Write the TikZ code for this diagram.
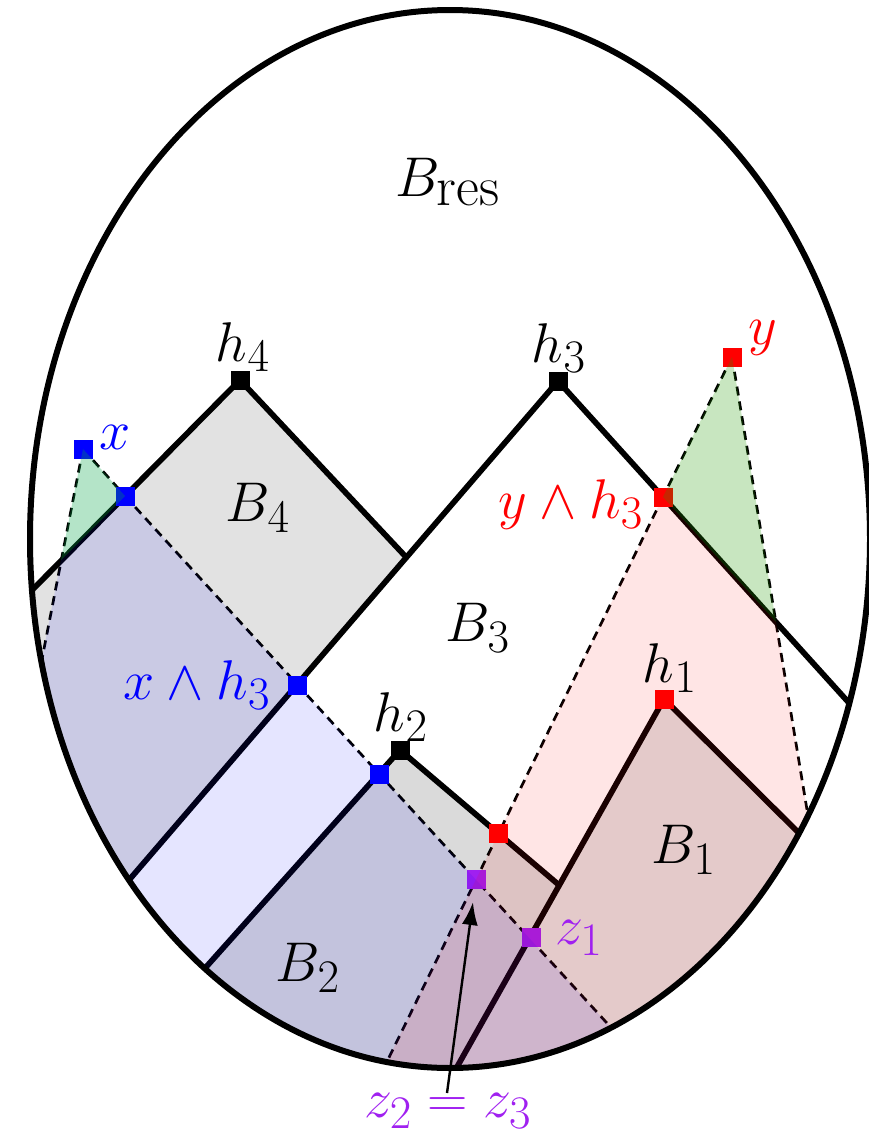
\documentclass[tikz,border=0pt]{standalone}
\usetikzlibrary{arrows.meta}
\definecolor{zpurple}{RGB}{160,32,240}
\definecolor{grayA}{RGB}{226,226,226}
\definecolor{grayB}{RGB}{218,218,218}
\definecolor{ygreen}{RGB}{35,155,3}
\definecolor{xgreen}{RGB}{5,165,72}
\begin{document}
\begin{tikzpicture}[x=1pt,y=-1pt,
  thickline/.style={line width=5.7pt, line join=round},
  dashline/.style={line width=2.7pt, dash pattern=on 9pt off 6pt},
  sq/.style={fill=#1, rectangle, minimum size=19pt, inner sep=0pt, outer sep=0pt, draw=none},
  lab/.style={font=\Huge, scale=2.25, inner sep=0pt},
  cone/.style={fill=#1, fill opacity=0.1},
]
\useasboundingbox (0,0) rectangle (869,1136);
% main points
\coordinate (h4) at (240,380);
\coordinate (h3) at (558,381);
\coordinate (h2) at (400,750);
\coordinate (h1) at (664,699);
\coordinate (J4) at (406,557);
\coordinate (J2) at (559,885);
\coordinate (E4L) at (-50,673);
\coordinate (E3L) at (111,901);
\coordinate (E3R) at (869,725);
\coordinate (E2L) at (190,985);
\coordinate (E1L) at (448,1083);
\coordinate (E1R) at (815,849);
\coordinate (x) at (83,449);
\coordinate (P) at (125,496);
\coordinate (Q) at (61,560);
\coordinate (Xext) at (34,700);
\coordinate (xh) at (297,685);
\coordinate (b2) at (379,774);
\coordinate (z2) at (476,879);
\coordinate (z1) at (531,937);
\coordinate (Bext) at (627,1045);
\coordinate (y) at (732,357);
\coordinate (yh) at (663,497);
\coordinate (r2) at (498,833);
\coordinate (Gy) at (776,622);
\coordinate (Yext) at (812,840);
\coordinate (Rext) at (378,1080);

\begin{scope}
\clip (450,539) ellipse [x radius=420pt, y radius=529pt];
% gray cones
\fill[grayA] (h4) -- (J4) -- (E3L) -- (-50,901) -- (E4L) -- cycle;
\fill[grayB] (h2) -- (J2) -- (E1L) -- (190,1083) -- (E2L) -- cycle;
\fill[grayA] (h1) -- (E1R) -- (815,1083) -- (E1L) -- cycle;
% tree lines
\draw[thickline] (h4) -- (E4L);
\draw[thickline] (h4) -- (J4);
\draw[thickline] (h3) -- (E3L);
\draw[thickline] (h3) -- (E3R);
\draw[thickline] (h2) -- (E2L);
\draw[thickline] (h2) -- (J2);
\draw[thickline] (h1) -- (E1L);
\draw[thickline] (h1) -- (E1R);
% dashed lines
\draw[dashline] (x) -- (Xext);
\draw[dashline] (x) -- (P);
\draw[dashline] (P) -- (Bext);
\draw[dashline] (y) -- (yh);
\draw[dashline] (y) -- (Yext);
\draw[dashline] (yh) -- (Rext);
% squares
\node[sq=black] (h4box) at (h4) {};
\node[sq=black] (h3box) at (h3) {};
\node[sq=black] (h2box) at (h2) {};
\node[sq=red] (h1box) at (h1) {};
\node[sq=blue] (xbox) at (x) {};
\node[sq=blue] (Pbox) at (P) {};
\node[sq=blue] (xhbox) at (xh) {};
\node[sq=blue] (b2box) at (b2) {};
\node[sq=zpurple] (z2box) at (z2) {};
\node[sq=zpurple] (z1box) at (z1) {};
\node[sq=red] (ybox) at (y) {};
\node[sq=red] (yhbox) at (yh) {};
\node[sq=red] (r2box) at (r2) {};
% translucent cones
\fill[cone=blue] (Q) -- (P) -- (Bext) -- (627,1120) -- (0,1120) -- (0,700) -- (Xext) -- cycle;
\fill[cone=red] (yh) -- (Gy) -- (Yext) -- (880,900) -- (880,1120) -- (370,1120) -- (Rext) -- cycle;
\fill[xgreen, fill opacity=0.3] (x) -- (P) -- (Q) -- cycle;
\fill[ygreen, fill opacity=0.25] (y) -- (yh) -- (Gy) -- cycle;
\end{scope}
% boundary
\draw[line width=6pt] (450,539) ellipse [x radius=420pt, y radius=529pt];
% labels
\node[lab] (Bres) at (448,182) {$B_{\mbox{res}}$};
\node[lab] (B4) at (258,508) {$B_4$};
\node[lab] (B3) at (478,628) {$B_3$};
\node[lab] (B2) at (308,968) {$B_2$};
\node[lab] (B1) at (684,850) {$B_1$};
\node[lab] (h4lab) at (243,347) {$h_4$};
\node[lab] (h3lab) at (559,348) {$h_3$};
\node[lab] (h2lab) at (401,717) {$h_2$};
\node[lab] (h1lab) at (670,668) {$h_1$};
\node[lab, text=red] (ylab) at (763,338) {$y$};
\node[lab, text=blue] (xlab) at (115,437) {$x$};
\node[lab, text=blue] (xhlab) at (197,685) {$x\wedge h_3$};
\node[lab, text=red] (yhlab) at (571,504) {$y\wedge h_3$};
\node[lab, text=zpurple] (z1lab) at (579,938) {$z_1$};
\node[lab, text=zpurple] (zlab) at (448,1111) {$z_2=z_3$};
\coordinate (zarrow) at (447,1093);
\coordinate (ztip) at (473,902);
\draw[line width=2.4pt, -{Latex[length=23pt,width=16pt]}] (zarrow) -- (ztip);
\end{tikzpicture}
\end{document}
